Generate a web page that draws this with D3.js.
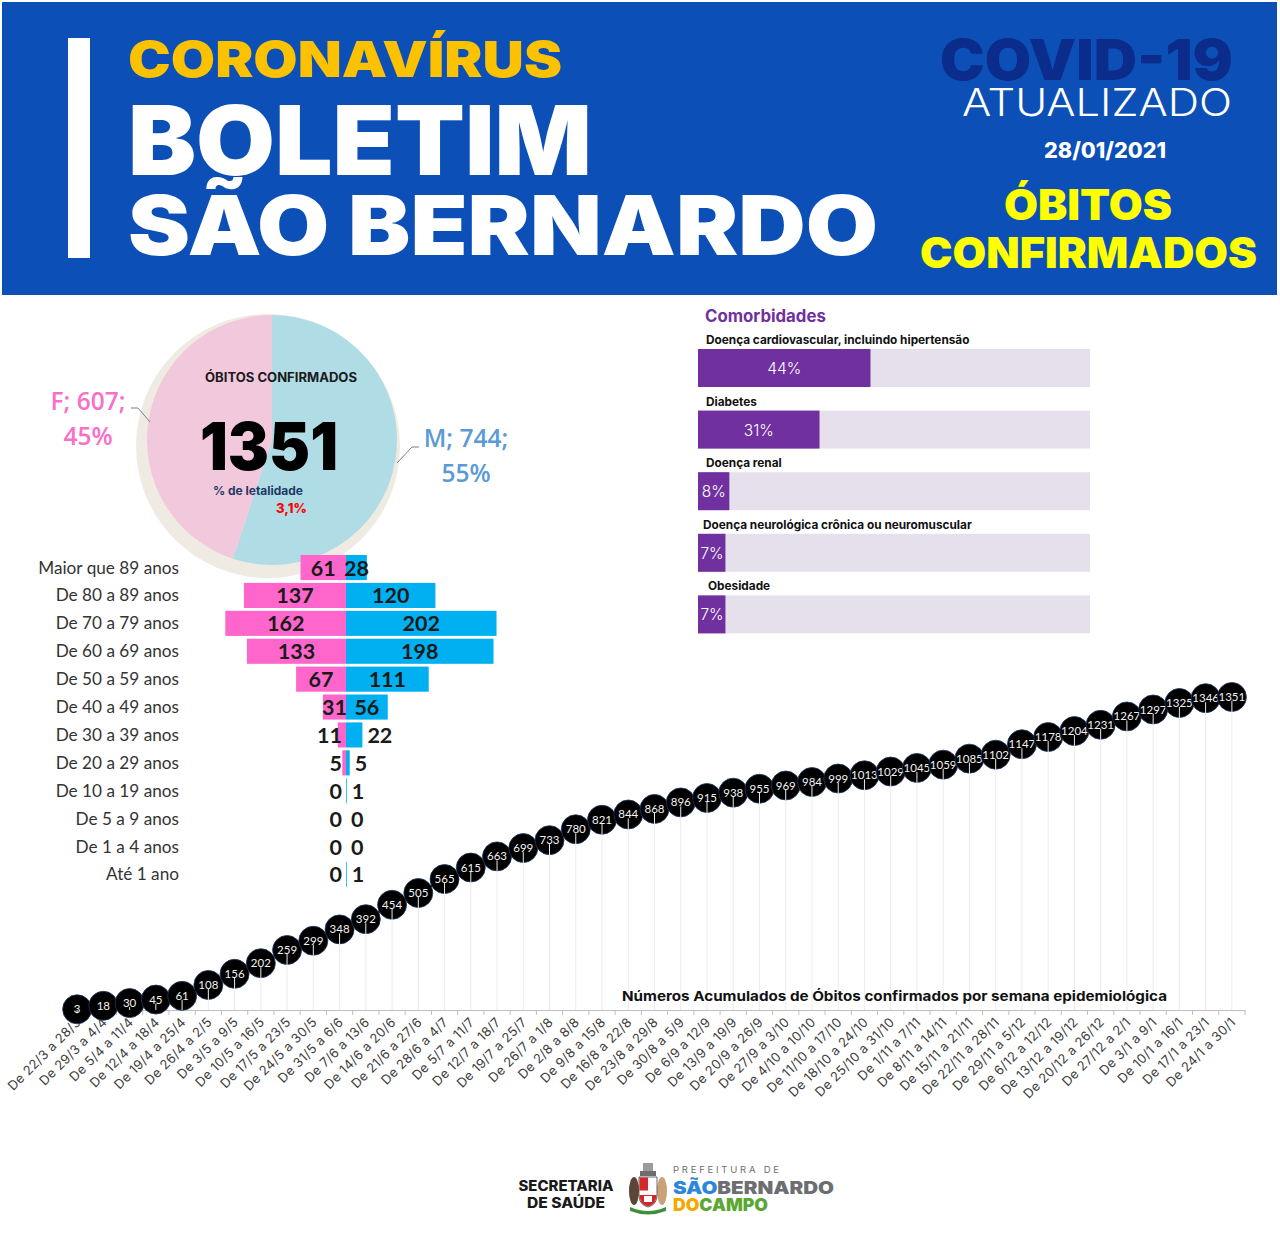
<!DOCTYPE html>
<html lang="pt-BR">
<head>
<meta charset="utf-8">
<title>Boletim São Bernardo - Óbitos confirmados</title>
<script src="https://cdn.jsdelivr.net/npm/d3@7"></script>
<style>
  body { margin: 0; background: #fff; }
  svg { display: block; }
</style>
</head>
<body>
<script>
const largura = 1280;
const altura = 1259;

// dados
const sexoRotulos = ["M", "F"];
const sexoObitos = [744, 607];
const sexoPct = ["55%", "45%"];
const totalObitos = "1351";
const letalidade = "3,1%";

const faixasEtarias = [
  "Maior que 89 anos", "De 80 a 89 anos", "De 70 a 79 anos", "De 60 a 69 anos",
  "De 50 a 59 anos", "De 40 a 49 anos", "De 30 a 39 anos", "De 20 a 29 anos",
  "De 10 a 19 anos", "De 5 a 9 anos", "De 1 a 4 anos", "Até 1 ano"
];
const obitosFeminino = [61, 137, 162, 133, 67, 31, 11, 5, 0, 0, 0, 0];
const obitosMasculino = [28, 120, 202, 198, 111, 56, 22, 5, 1, 0, 0, 1];

const comorbidades = [
  "Doença cardiovascular, incluindo hipertensão",
  "Diabetes",
  "Doença renal",
  "Doença neurológica crônica ou neuromuscular",
  "Obesidade"
];
const comorbidadesPct = [44, 31, 8, 7, 7];

const semanas = [
  "De 22/3 a 28/3", "De 29/3 a 4/4", "De 5/4 a 11/4", "De 12/4 a 18/4", "De 19/4 a 25/4",
  "De 26/4 a 2/5", "De 3/5 a 9/5", "De 10/5 a 16/5", "De 17/5 a 23/5", "De 24/5 a 30/5",
  "De 31/5 a 6/6", "De 7/6 a 13/6", "De 14/6 a 20/6", "De 21/6 a 27/6", "De 28/6 a 4/7",
  "De 5/7 a 11/7", "De 12/7 a 18/7", "De 19/7 a 25/7", "De 26/7 a 1/8", "De 2/8 a 8/8",
  "De 9/8 a 15/8", "De 16/8 a 22/8", "De 23/8 a 29/8", "De 30/8 a 5/9", "De 6/9 a 12/9",
  "De 13/9 a 19/9", "De 20/9 a 26/9", "De 27/9 a 3/10", "De 4/10 a 10/10", "De 11/10 a 17/10",
  "De 18/10 a 24/10", "De 25/10 a 31/10", "De 1/11 a 7/11", "De 8/11 a 14/11", "De 15/11 a 21/11",
  "De 22/11 a 28/11", "De 29/11 a 5/12", "De 6/12 a 12/12", "De 13/12 a 19/12", "De 20/12 a 26/12",
  "De 27/12 a 2/1", "De 3/1 a 9/1", "De 10/1 a 16/1", "De 17/1 a 23/1", "De 24/1 a 30/1"
];
const obitosAcumulados = [
  3, 18, 30, 45, 61, 108, 156, 202, 259, 299,
  348, 392, 454, 505, 565, 615, 663, 699, 733, 780,
  821, 844, 868, 896, 915, 938, 955, 969, 984, 999,
  1013, 1029, 1045, 1059, 1085, 1102, 1147, 1178, 1204, 1231,
  1267, 1297, 1325, 1346, 1351
];

const fonteTitulo = "Inter, 'Open Sans', sans-serif";
const fonteTexto = "Lato, 'Open Sans', sans-serif";

const svg = d3.select("body").append("svg")
  .attr("width", largura)
  .attr("height", altura);

// ---------- cabecalho ----------
const cab = svg.append("g");
cab.append("rect")
  .attr("x", 2).attr("y", 2).attr("width", 1275).attr("height", 293)
  .attr("fill", "#0c50b7");
cab.append("rect")
  .attr("x", 68).attr("y", 38).attr("width", 22).attr("height", 220)
  .attr("fill", "#fff");

function textoCab(txt, x, y, tam, peso, cor, comp) {
  cab.append("text")
    .attr("x", x).attr("y", y)
    .attr("font-family", fonteTitulo)
    .attr("font-size", tam)
    .attr("font-weight", peso)
    .attr("fill", cor)
    .attr("textLength", comp)
    .attr("lengthAdjust", "spacingAndGlyphs")
    .text(txt);
}
textoCab("CORONAVÍRUS", 128, 77, 50, 900, "#fcc200", 434);
textoCab("BOLETIM", 128, 175, 96, 900, "#fff", 464);
textoCab("SÃO BERNARDO", 128, 255, 82, 900, "#fff", 750);
textoCab("COVID-19", 940, 80, 57, 900, "#0b2c8a", 293);
textoCab("ATUALIZADO", 962, 116, 38, 300, "#fff", 270);
textoCab("28/01/2021", 1044, 158, 22, 800, "#fff", 122);
textoCab("ÓBITOS", 1004, 220, 42, 900, "#ffff00", 168);
textoCab("CONFIRMADOS", 920, 268, 43, 900, "#ffff00", 337);

// ---------- pizza por sexo ----------
const pizzaCx = 272, pizzaCy = 440, raio = 125;
const pizza = svg.append("g");
pizza.append("circle")
  .attr("cx", pizzaCx - 4).attr("cy", pizzaCy + 6).attr("r", raio + 7)
  .attr("fill", "#efebe3");

const corPizza = d3.scaleOrdinal(sexoRotulos, ["#b0dce5", "#f2c8dc"]);
const fatias = d3.pie().sort(null)(sexoObitos);
const arco = d3.arc().innerRadius(0).outerRadius(raio);
pizza.append("g")
  .attr("transform", `translate(${pizzaCx},${pizzaCy})`)
  .selectAll("path")
  .data(fatias)
  .join("path")
  .attr("d", arco)
  .attr("fill", (d, i) => corPizza(sexoRotulos[i]));

// linhas de chamada
pizza.append("polyline")
  .attr("points", "131,408 138,408 150,422")
  .attr("fill", "none").attr("stroke", "#7f7f7f").attr("stroke-width", 1);
pizza.append("polyline")
  .attr("points", "397,463 412,447 419,447")
  .attr("fill", "none").attr("stroke", "#7f7f7f").attr("stroke-width", 1);

const rotF = pizza.append("text")
  .attr("font-family", "'Open Sans', sans-serif").attr("font-weight", 600)
  .attr("font-size", 24.5).attr("fill", "#f870c8").attr("text-anchor", "middle");
rotF.append("tspan").attr("x", 88).attr("y", 410).text(`${sexoRotulos[1]}; ${sexoObitos[1]};`);
rotF.append("tspan").attr("x", 88).attr("y", 445).text(sexoPct[1]);

const rotM = pizza.append("text")
  .attr("font-family", "'Open Sans', sans-serif").attr("font-weight", 600)
  .attr("font-size", 24.5).attr("fill", "#5b9bd5").attr("text-anchor", "middle");
rotM.append("tspan").attr("x", 466).attr("y", 447).text(`${sexoRotulos[0]}; ${sexoObitos[0]};`);
rotM.append("tspan").attr("x", 466).attr("y", 482).text(sexoPct[0]);

pizza.append("text")
  .attr("x", 205).attr("y", 382)
  .attr("font-family", fonteTitulo).attr("font-weight", 700).attr("font-size", 12.5)
  .attr("fill", "#1a1a1a").attr("textLength", 152).attr("lengthAdjust", "spacingAndGlyphs")
  .text("ÓBITOS CONFIRMADOS");
pizza.append("text")
  .attr("x", 200).attr("y", 470)
  .attr("font-family", fonteTitulo).attr("font-weight", 900).attr("font-size", 66)
  .attr("fill", "#000").attr("textLength", 138).attr("lengthAdjust", "spacingAndGlyphs")
  .text(totalObitos);
pizza.append("text")
  .attr("x", 213).attr("y", 495)
  .attr("font-family", fonteTitulo).attr("font-weight", 700).attr("font-size", 11.5)
  .attr("fill", "#1f3864").attr("textLength", 90).attr("lengthAdjust", "spacingAndGlyphs")
  .text("% de letalidade");
pizza.append("text")
  .attr("x", 276).attr("y", 513)
  .attr("font-family", fonteTitulo).attr("font-weight", 800).attr("font-size", 12.5)
  .attr("fill", "#ff0000").attr("textLength", 31).attr("lengthAdjust", "spacingAndGlyphs")
  .text(letalidade);

// ---------- piramide etaria ----------
const centro = 346;
const escalaBarra = d3.scaleLinear().domain([0, 202]).range([0, 150.5]);
const linhas = d3.scaleBand().domain(faixasEtarias)
  .range([553.6, 553.6 + 12 * 27.9]).paddingInner(0.1).paddingOuter(0.05);

const pir = svg.append("g");
const dadosPir = faixasEtarias.map((f, i) => ({ faixa: f, fem: obitosFeminino[i], masc: obitosMasculino[i] }));

pir.selectAll(".fem").data(dadosPir).join("rect")
  .attr("class", "fem")
  .attr("x", d => centro - escalaBarra(d.fem))
  .attr("y", d => linhas(d.faixa))
  .attr("width", d => escalaBarra(d.fem))
  .attr("height", linhas.bandwidth())
  .attr("fill", "#ff66cc");
pir.selectAll(".masc").data(dadosPir).join("rect")
  .attr("class", "masc")
  .attr("x", centro)
  .attr("y", d => linhas(d.faixa))
  .attr("width", d => escalaBarra(d.masc))
  .attr("height", linhas.bandwidth())
  .attr("fill", "#00b0f0");

pir.selectAll(".faixa").data(dadosPir).join("text")
  .attr("class", "faixa")
  .attr("x", 179)
  .attr("y", d => linhas(d.faixa) + linhas.bandwidth() / 2 + 6)
  .attr("text-anchor", "end")
  .attr("font-family", fonteTexto).attr("font-size", 17.2).attr("fill", "#333")
  .text(d => d.faixa);

function rotuloPir(sel, chave, lado) {
  sel.attr("font-family", fonteTexto).attr("font-weight", 700).attr("font-size", 21.5)
    .attr("fill", "#1a1a1a")
    .attr("y", d => linhas(d.faixa) + linhas.bandwidth() / 2 + 8)
    .each(function (d) {
      const w = escalaBarra(d[chave]);
      const t = d3.select(this);
      if (w >= 20) {
        t.attr("x", centro + lado * w / 2).attr("text-anchor", "middle");
      } else if (lado < 0) {
        t.attr("x", centro - 4).attr("text-anchor", "end");
      } else {
        t.attr("x", centro + w + 5).attr("text-anchor", "start");
      }
    })
    .text(d => d[chave]);
}
rotuloPir(pir.selectAll(".rf").data(dadosPir).join("text").attr("class", "rf"), "fem", -1);
rotuloPir(pir.selectAll(".rm").data(dadosPir).join("text").attr("class", "rm"), "masc", 1);

// ---------- comorbidades ----------
const com = svg.append("g");
com.append("text")
  .attr("x", 705).attr("y", 322)
  .attr("font-family", fonteTitulo).attr("font-weight", 700).attr("font-size", 16.8)
  .attr("fill", "#7030a0")
  .text("Comorbidades");

const escalaCom = d3.scaleLinear().domain([0, 100]).range([0, 392]);
const linhasCom = d3.scaleBand().domain(comorbidades).range([349, 349 + 5 * 61.6]).paddingInner(0).paddingOuter(0);
const dadosCom = comorbidades.map((c, i) => ({ nome: c, pct: comorbidadesPct[i] }));

com.selectAll(".fundo").data(dadosCom).join("rect")
  .attr("class", "fundo")
  .attr("x", 698).attr("y", d => linhasCom(d.nome))
  .attr("width", escalaCom(100)).attr("height", 38)
  .attr("fill", "#e6e0ec");
com.selectAll(".valor").data(dadosCom).join("rect")
  .attr("class", "valor")
  .attr("x", 698).attr("y", d => linhasCom(d.nome))
  .attr("width", d => escalaCom(d.pct)).attr("height", 38)
  .attr("fill", "#7030a0");
com.selectAll(".nome").data(dadosCom).join("text")
  .attr("class", "nome")
  .attr("x", (d, i) => [706, 706, 706, 703, 708][i])
  .attr("y", d => linhasCom(d.nome) - 5)
  .attr("font-family", fonteTitulo).attr("font-weight", 700).attr("font-size", 11.8)
  .attr("fill", "#111")
  .text(d => d.nome);
com.selectAll(".pct").data(dadosCom).join("text")
  .attr("class", "pct")
  .attr("x", d => 698 + Math.max(escalaCom(d.pct) / 2, 14))
  .attr("y", d => linhasCom(d.nome) + 25)
  .attr("text-anchor", "middle")
  .attr("font-family", fonteTitulo).attr("font-weight", 300).attr("font-size", 15.5)
  .attr("fill", "#fff")
  .text(d => d.pct + "%");

// ---------- obitos acumulados por semana ----------
const eixoY = 1010;
const x = d3.scalePoint().domain(semanas).range([64, 1245]).padding(0.5);
const y = d3.scaleLinear().domain([0, 1351]).range([eixoY, 697]);
const passo = x.step();

const graf = svg.append("g");

const eixo = graf.append("g")
  .attr("transform", `translate(0,${eixoY})`)
  .call(d3.axisBottom(x).tickSize(0).tickPadding(0));
eixo.select(".domain").attr("stroke", "#bfbfbf");
eixo.selectAll("text")
  .attr("y", 0).attr("dy", 0)
  .attr("transform", "translate(4,13) rotate(-45)")
  .attr("text-anchor", "end")
  .attr("font-family", fonteTitulo).attr("font-size", 13)
  .attr("letter-spacing", 0.3)
  .attr("fill", "#404040");

graf.append("g").selectAll("line")
  .data(d3.range(semanas.length + 1))
  .join("line")
  .attr("x1", i => 64 + i * passo).attr("x2", i => 64 + i * passo)
  .attr("y1", eixoY).attr("y2", eixoY + 5)
  .attr("stroke", "#bfbfbf");

graf.append("path")
  .datum(obitosAcumulados)
  .attr("fill", "none").attr("stroke", "#000").attr("stroke-width", 2)
  .attr("d", d3.line().x((d, i) => x(semanas[i])).y(d => y(d)));

const pontos = graf.append("g").selectAll("g")
  .data(obitosAcumulados)
  .join("g")
  .attr("transform", (d, i) => `translate(${x(semanas[i])},${y(d)})`);
pontos.append("circle")
  .attr("r", 14.5)
  .attr("fill", "#000")
  .attr("stroke", "#203864").attr("stroke-width", 0.8);
pontos.append("line")
  .attr("x1", 0).attr("x2", 0)
  .attr("y1", 4).attr("y2", d => eixoY - y(d))
  .attr("stroke", "#ececec").attr("stroke-width", 1);
pontos.append("text")
  .attr("y", 4)
  .attr("text-anchor", "middle")
  .attr("font-family", fonteTexto).attr("font-size", 11.5)
  .attr("fill", "#f2f2f2")
  .text(d => d);

graf.append("text")
  .attr("x", 622).attr("y", 1001)
  .attr("font-family", fonteTitulo).attr("font-weight", 700).attr("font-size", 13.5)
  .attr("fill", "#111").attr("textLength", 545).attr("lengthAdjust", "spacingAndGlyphs")
  .text("Números Acumulados de Óbitos confirmados por semana epidemiológica");

// ---------- rodape ----------
const rod = svg.append("g");
rod.append("text")
  .attr("x", 566).attr("y", 1191).attr("text-anchor", "middle")
  .attr("font-family", fonteTitulo).attr("font-weight", 800).attr("font-size", 14)
  .attr("fill", "#1a1a1a").attr("textLength", 95).attr("lengthAdjust", "spacingAndGlyphs")
  .text("SECRETARIA");
rod.append("text")
  .attr("x", 566).attr("y", 1208).attr("text-anchor", "middle")
  .attr("font-family", fonteTitulo).attr("font-weight", 800).attr("font-size", 14)
  .attr("fill", "#1a1a1a").attr("textLength", 78).attr("lengthAdjust", "spacingAndGlyphs")
  .text("DE SAÚDE");

// brasao simplificado
const bra = rod.append("g").attr("transform", "translate(628,1163)");
bra.append("rect").attr("x", 15).attr("y", 0).attr("width", 10).attr("height", 10).attr("fill", "#9a9a9a");
bra.append("rect").attr("x", 12).attr("y", 8).attr("width", 16).attr("height", 5).attr("fill", "#6d6d6d");
bra.append("ellipse").attr("cx", 6).attr("cy", 28).attr("rx", 5).attr("ry", 14).attr("fill", "#5a4636");
bra.append("ellipse").attr("cx", 34).attr("cy", 28).attr("rx", 5).attr("ry", 14).attr("fill", "#c9a27a");
bra.append("path").attr("d", "M11,14 H29 V32 Q29,42 20,44 Q11,42 11,32 Z").attr("fill", "#fff").attr("stroke", "#444").attr("stroke-width", 0.8);
bra.append("rect").attr("x", 11.5).attr("y", 14.5).attr("width", 8.5).attr("height", 13).attr("fill", "#d3272e");
bra.append("path").attr("d", "M11.5,32 H28.5 Q28.5,41.5 20,43.5 Q11.5,41.5 11.5,32 Z").attr("fill", "#d3272e");
bra.append("rect").attr("x", 16).attr("y", 33).attr("width", 8).attr("height", 6).attr("fill", "#fff");
bra.append("path").attr("d", "M2,44 Q20,52 38,44 L38,48 Q20,55 2,48 Z").attr("fill", "#3f8f3a");

rod.append("text")
  .attr("x", 673).attr("y", 1173)
  .attr("font-family", fonteTitulo).attr("font-weight", 400).attr("font-size", 9.5)
  .attr("fill", "#6d6e71").attr("textLength", 106).attr("lengthAdjust", "spacing")
  .text("PREFEITURA DE");
const sbc = rod.append("text")
  .attr("x", 673).attr("y", 1194)
  .attr("font-family", fonteTitulo).attr("font-weight", 900).attr("font-size", 17)
  .attr("textLength", 161).attr("lengthAdjust", "spacingAndGlyphs");
sbc.append("tspan").attr("fill", "#2e86d6").text("SÃO");
sbc.append("tspan").attr("fill", "#6d6e71").text("BERNARDO");
const dc = rod.append("text")
  .attr("x", 673).attr("y", 1211)
  .attr("font-family", fonteTitulo).attr("font-weight", 900).attr("font-size", 17)
  .attr("textLength", 95).attr("lengthAdjust", "spacingAndGlyphs");
dc.append("tspan").attr("fill", "#f5a800").text("DO");
dc.append("tspan").attr("fill", "#5aa832").text("CAMPO");
</script>
</body>
</html>
